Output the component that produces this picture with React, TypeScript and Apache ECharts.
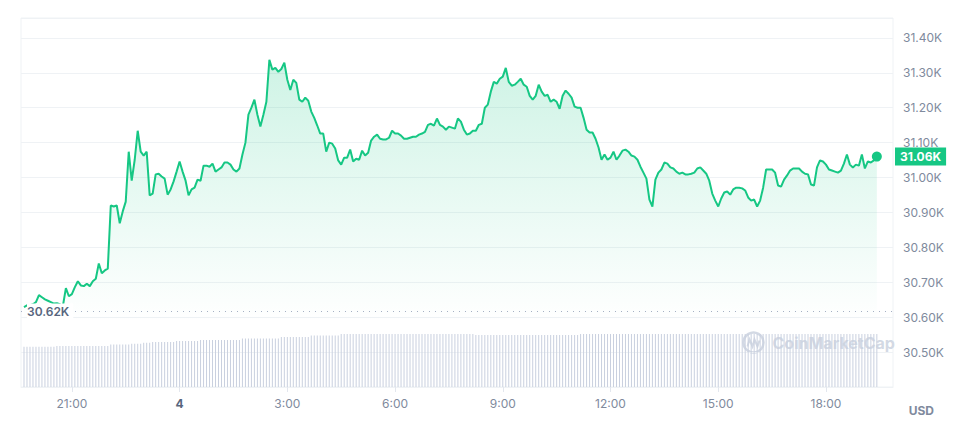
import { useEffect, useRef } from "react";
import * as echarts from "echarts";

// ---- data ----
const startTime = new Date(2023, 6, 3, 19, 40).getTime(); // first 5-minute sample
const stepMs = 5 * 60 * 1000;
const axisStart = new Date(2023, 6, 3, 19, 35).getTime();
const axisEnd = new Date(2023, 6, 4, 19, 52).getTime();

const tickStamps: number[] = [
  new Date(2023, 6, 3, 21).getTime(),
  new Date(2023, 6, 4, 0).getTime(),
  new Date(2023, 6, 4, 3).getTime(),
  new Date(2023, 6, 4, 6).getTime(),
  new Date(2023, 6, 4, 9).getTime(),
  new Date(2023, 6, 4, 12).getTime(),
  new Date(2023, 6, 4, 15).getTime(),
  new Date(2023, 6, 4, 18).getTime(),
];

const prices: number[] = [
  30629, 30634, 30634, 30637, 30643, 30663, 30657, 30651, 30647, 30643,
  30639, 30640, 30637, 30632, 30683, 30660, 30666, 30686, 30703, 30691,
  30689, 30696, 30689, 30703, 30710, 30754, 30726, 30734, 30739, 30920,
  30917, 30920, 30869, 30903, 30931, 31074, 30991, 31051, 31134, 31074,
  31063, 31074, 30949, 30954, 31009, 31011, 31003, 30997, 30951, 30966,
  30989, 31017, 31046, 31017, 30991, 30949, 30966, 30971, 30994, 30991,
  31034, 31034, 31031, 31040, 31017, 31023, 31029, 31043, 31043, 31037,
  31023, 31017, 31026, 31066, 31100, 31180, 31200, 31223, 31180, 31146,
  31180, 31217, 31337, 31309, 31314, 31303, 31311, 31329, 31280, 31251,
  31280, 31271, 31223, 31217, 31229, 31220, 31189, 31171, 31149, 31126,
  31126, 31074, 31100, 31097, 31083, 31049, 31037, 31057, 31057, 31080,
  31046, 31054, 31051, 31077, 31063, 31071, 31106, 31117, 31123, 31111,
  31109, 31109, 31114, 31134, 31126, 31126, 31120, 31111, 31111, 31114,
  31117, 31117, 31123, 31126, 31131, 31151, 31154, 31149, 31169, 31151,
  31146, 31137, 31146, 31143, 31140, 31169, 31160, 31137, 31123, 31126,
  31134, 31134, 31151, 31154, 31200, 31209, 31246, 31274, 31269, 31283,
  31289, 31314, 31274, 31263, 31266, 31274, 31283, 31266, 31260, 31234,
  31223, 31234, 31266, 31246, 31234, 31237, 31217, 31223, 31217, 31197,
  31234, 31249, 31240, 31229, 31203, 31200, 31200, 31171, 31137, 31129,
  31129, 31111, 31086, 31051, 31066, 31051, 31057, 31074, 31051, 31063,
  31077, 31080, 31074, 31063, 31060, 31051, 31031, 31014, 30997, 30937,
  30917, 30994, 31014, 31023, 31043, 31040, 31029, 31026, 31017, 31011,
  31014, 31009, 31009, 31011, 31014, 31026, 31029, 31020, 31011, 30991,
  30954, 30934, 30917, 30940, 30957, 30960, 30951, 30966, 30971, 30971,
  30969, 30963, 30943, 30934, 30937, 30917, 30934, 30971, 31023, 31023,
  31023, 31014, 30977, 30974, 30994, 31006, 31020, 31026, 31026, 31026,
  31017, 31011, 31009, 30980, 30977, 31029, 31049, 31046, 31037, 31023,
  31020, 31017, 31014, 31020, 31040, 31066, 31037, 31029, 31037, 31034,
  31066, 31026, 31046, 31043, 31049, 31060,
];

// 24h volume (relative units)
const volumes: number[] = [
  40.3, 40.3, 40.3, 40.3, 40.3, 40.3, 40.3, 40.3, 40.3, 40.3,
  40.3, 41, 41, 41, 41, 41, 41, 41, 41, 41,
  41, 41, 41, 41, 41, 41, 41, 41, 41, 42.5,
  42.5, 42.5, 42.5, 42.5, 42.5, 42.5, 43.3, 43.3, 43.3, 43.3,
  44.3, 44.3, 44.3, 45, 45, 45, 45, 45, 45, 45,
  45, 46, 46, 46, 46, 46, 46, 46, 46, 47,
  47, 47, 47, 47, 47, 47, 47, 47, 47, 47,
  47, 47, 47, 48.5, 48.5, 48.5, 48.5, 48.5, 48.5, 48.5,
  48.5, 48.5, 48.5, 48.5, 48.5, 48.5, 50, 50, 50, 50,
  50, 50, 50, 50, 50, 50, 51.5, 51.5, 51.5, 51.5,
  51.5, 51.5, 51.5, 51.5, 51.5, 51.5, 53, 53, 53, 53,
  53, 53, 53, 53, 53, 53, 53, 53, 53, 53,
  53, 53, 53, 53, 53, 53, 53, 53, 53, 53,
  53, 53, 53, 53, 53, 53, 53, 53, 53, 53,
  53, 53, 53, 53, 53, 53, 53, 53, 53, 53,
  53, 52, 52, 52, 52, 52, 52, 52, 52, 52,
  52, 52, 52, 52, 52, 52, 52, 52, 52, 52,
  52, 52, 52, 52, 52, 52, 52, 52, 52, 52,
  52, 52, 52, 52, 52, 52, 53, 53, 53, 53,
  53, 53, 53, 53, 53, 53, 53, 53, 53, 53,
  53, 53, 53, 53, 53, 53, 53, 53, 53, 53,
  53, 53, 53, 53, 53, 53, 53, 53, 53, 53,
  53, 53, 53, 53, 53, 53, 53, 53, 53, 53,
  53, 53, 53, 53, 53, 53, 53, 53, 53, 53,
  53, 53, 53, 53, 53, 53, 53, 53, 53, 53,
  53, 53, 53, 53, 53, 53, 53, 53, 53, 53,
  53, 53, 53, 53, 53, 53, 53, 53, 53, 53,
  53, 53, 53, 53, 53, 53, 53, 53, 53, 53,
  53, 53, 53, 53, 53, 53,
];

const openPrice = 30616;
const priceMin = 30400;
const priceMax = 31457;
const priceInterval = 100;
const volumeAxisMax = 369;

const GREEN = "#16c784";
const LABEL_GREY = "#808a9d";
const LINE_GREY = "#eff2f5";
const FONT = "Inter, 'Noto Sans', sans-serif";

const fmtK = (v: number) => (v / 1000).toFixed(2) + "K";

export default function App() {
  const ref = useRef<HTMLDivElement>(null);

  useEffect(() => {
    if (!ref.current) return;
    const chart = echarts.init(ref.current, undefined, { renderer: "svg" });

    const times = prices.map((_, i) => startTime + i * stepMs);
    const priceData = prices.map((p, i) => [times[i], p]);
    const volumeData = volumes.map((v, i) => [times[i], v]);
    const last = priceData[priceData.length - 1];

    chart.setOption({
      animation: false,
      textStyle: { fontFamily: FONT },
      grid: {
        left: 21,
        right: 68,
        top: 18,
        bottom: 39,
        show: true,
        borderColor: LINE_GREY,
        borderWidth: 1,
        backgroundColor: "transparent",
      },
      xAxis: {
        type: "value",
        min: axisStart,
        max: axisEnd,
        axisLine: { show: true, lineStyle: { color: LINE_GREY } },
        axisTick: {
          show: true,
          length: 5,
          customValues: tickStamps,
          lineStyle: { color: "#e3e7ee" },
        },
        splitLine: { show: false },
        axisLabel: {
          customValues: tickStamps,
          color: LABEL_GREY,
          fontSize: 12,
          fontFamily: FONT,
          margin: 10,
          formatter: (val: number) => {
            const d = new Date(val);
            const h = d.getHours();
            if (h === 0) return "{b|" + d.getDate() + "}";
            return h + ":00";
          },
          rich: {
            b: { fontWeight: "bold", color: "#58667e", fontSize: 12, fontFamily: FONT },
          },
        },
      },
      yAxis: [
        {
          type: "value",
          position: "right",
          min: priceMin,
          max: priceMax,
          interval: priceInterval,
          axisLine: { show: false },
          axisTick: { show: false },
          splitLine: { show: true, lineStyle: { color: LINE_GREY, width: 1 } },
          axisLabel: {
            color: LABEL_GREY,
            fontSize: 12,
            fontFamily: FONT,
            margin: 10,
            showMinLabel: false,
            showMaxLabel: false,
            formatter: (v: number) => fmtK(v),
          },
        },
        {
          type: "value",
          min: 0,
          max: volumeAxisMax,
          show: false,
          splitLine: { show: false },
        },
      ],
      series: [
        {
          type: "bar",
          name: "Volume",
          xAxisIndex: 0,
          yAxisIndex: 1,
          data: volumeData,
          barWidth: 1,
          itemStyle: { color: "#c9d0df" },
          silent: true,
          z: 1,
        },
        {
          type: "line",
          name: "Price",
          xAxisIndex: 0,
          yAxisIndex: 0,
          data: priceData,
          showSymbol: false,
          symbol: "none",
          lineStyle: { color: GREEN, width: 2 },
          itemStyle: { color: GREEN },
          areaStyle: {
            color: new echarts.graphic.LinearGradient(0, 0, 0, 1, [
              { offset: 0, color: "rgba(22,199,132,0.30)" },
              { offset: 0.45, color: "rgba(22,199,132,0.13)" },
              { offset: 0.8, color: "rgba(22,199,132,0.0)" },
              { offset: 1, color: "rgba(22,199,132,0.0)" },
            ]),
          },
          z: 3,
          markPoint: {
            silent: true,
            symbol: "circle",
            symbolSize: 10,
            itemStyle: { color: GREEN },
            label: { show: false },
            data: [{ coord: last }],
          },
          markLine: {
            silent: true,
            symbol: ["none", "none"],
            animation: false,
            data: [
              {
                yAxis: openPrice,
                lineStyle: { color: "#a6b0c3", type: [1, 5], width: 1 },
                label: {
                  show: true,
                  position: "insideStartTop",
                  distance: [6, 0],
                  verticalAlign: "middle",
                  formatter: (p: any) => fmtK(p.value),
                  color: "#58667e",
                  fontSize: 12,
                  fontWeight: 600,
                  fontFamily: FONT,
                  backgroundColor: "#ffffff",
                  padding: [2, 4, 2, 0],
                },
              },
              {
                yAxis: last[1],
                lineStyle: { color: "rgba(0,0,0,0)", width: 1, type: "solid" },
                label: {
                  show: true,
                  position: "end",
                  distance: 2,
                  formatter: (p: any) => fmtK(p.value),
                  color: "#ffffff",
                  fontSize: 12,
                  fontWeight: "bold",
                  fontFamily: FONT,
                  backgroundColor: GREEN,
                  padding: [3, 5, 3, 5],
                },
              },
            ],
          },
        },
      ],
      graphic: [
        {
          type: "text",
          right: 27,
          top: 404,
          style: {
            text: "USD",
            fill: LABEL_GREY,
            font: "bold 12px " + FONT,
          },
        },
        {
          type: "group",
          left: 741,
          top: 330,
          silent: true,
          z: 0,
          children: [
            {
              type: "circle",
              shape: { cx: 11, cy: 11, r: 10 },
              style: { fill: "none", stroke: "#d3d9e4", lineWidth: 2.5 },
            },
            {
              type: "polyline",
              shape: {
                points: [
                  [5, 15],
                  [7, 8],
                  [10, 15],
                  [12, 8],
                  [15, 15],
                  [17, 9],
                ],
              },
              style: { fill: "none", stroke: "#d3d9e4", lineWidth: 2 },
            },
            {
              type: "text",
              x: 30,
              y: 3,
              style: {
                text: "CoinMarketCap",
                fill: "#d3d9e4",
                font: "bold 16px " + FONT,
              },
            },
          ],
        },
      ],
    });

    return () => chart.dispose();
  }, []);

  return (
    <div
      ref={ref}
      style={{ position: "fixed", left: 0, top: 0, width: 961, height: 426, background: "#fff" }}
    />
  );
}
